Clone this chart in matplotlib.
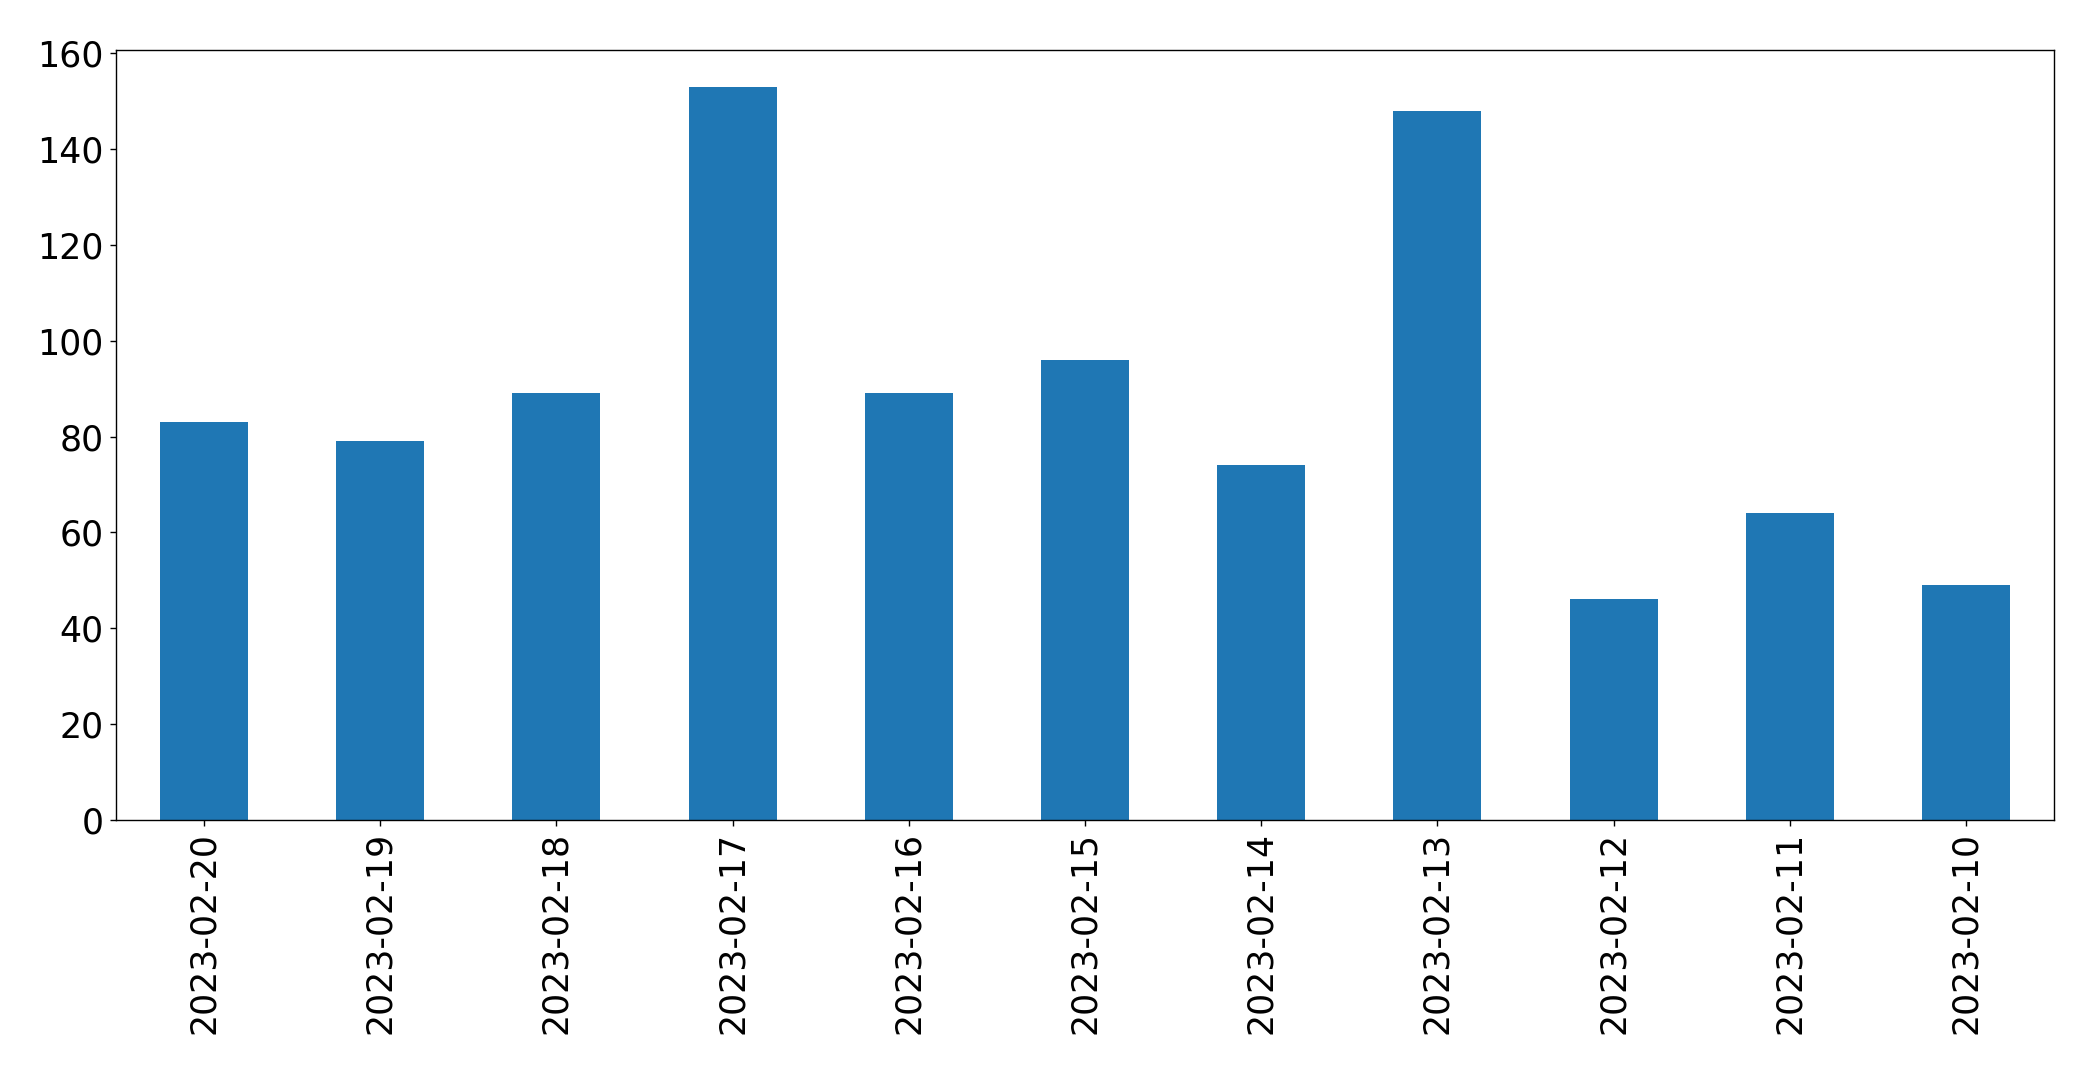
import numpy as np
import matplotlib
matplotlib.use("Agg")
import matplotlib.pyplot as plt

# daily counts, newest first (as in the original)
dates = ["2023-02-20", "2023-02-19", "2023-02-18", "2023-02-17", "2023-02-16",
         "2023-02-15", "2023-02-14", "2023-02-13", "2023-02-12", "2023-02-11",
         "2023-02-10"]
counts = [83, 79, 89, 153, 89, 96, 74, 148, 46, 64, 49]

FONTSIZE = 20
DPI = 125

fig, ax = plt.subplots(figsize=(2093 / DPI, 1072 / DPI), dpi=DPI)
fig.subplots_adjust(left=0.0554, right=0.9814, bottom=0.2351, top=0.9534)

x = np.arange(len(dates))
ax.bar(x, counts, width=0.5, color="#1f77b4")
ax.set_xlim(-0.5, len(dates) - 0.5)
ax.set_ylim(0, max(counts) * 1.05)
ax.set_xticks(x)
ax.set_xticklabels(dates, rotation=90)
ax.tick_params(axis="both", labelsize=FONTSIZE)

plt.savefig("out.png", dpi=DPI)
